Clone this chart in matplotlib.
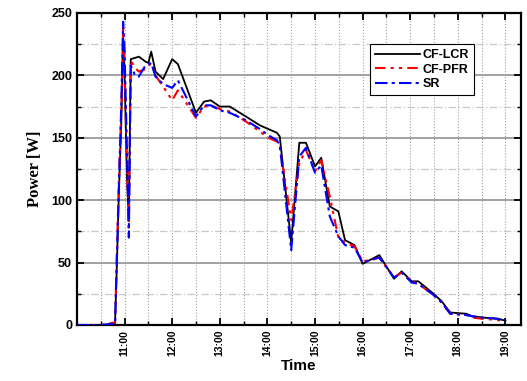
import matplotlib
matplotlib.use("Agg")
import matplotlib.pyplot as plt
from matplotlib.ticker import MultipleLocator, FixedLocator

# time in decimal hours
t = [10.0, 10.5, 10.8, 10.84, 10.88, 10.93, 10.97, 11.0, 11.05, 11.09,
     11.13, 11.22, 11.3, 11.44, 11.5, 11.56, 11.65, 11.81, 12.0, 12.12,
     12.5, 12.67, 12.81, 13.0, 13.21, 13.55, 13.84, 14.02, 14.2, 14.26,
     14.5, 14.67, 14.81, 15.0, 15.13, 15.31, 15.49, 15.63, 15.83, 16.0,
     16.15, 16.35, 16.66, 16.82, 17.03, 17.17, 17.49, 17.66, 17.84, 18.18,
     18.3, 18.51, 18.83, 19.0]

cf_lcr = [0, 0, 1, 50, 105, 160, 232, 200, 120, 83,
          213, 214, 215, 211, 210, 219, 203, 197, 213, 209,
          170, 179, 180, 175, 175, 167, 160, 157, 154, 151,
          66, 146, 146, 127, 134, 95, 91, 68, 64, 49,
          52, 56, 37, 43, 35, 35, 25, 19, 10, 9,
          7, 6, 5, 3.5]

cf_pfr = [0, 0, 2, 60, 115, 170, 238, 210, 130, 78,
          212, 206, 203, 205, 207, 210, 200, 191, 180, 188,
          166, 175, 176, 173, 171, 163, 155, 150, 147, 143,
          84, 130, 140, 123, 132, 103, 70, 66, 63, 51,
          52, 54, 38, 42, 35, 33, 24, 18, 9, 8,
          6, 5, 4, 3]

sr = [0, 0, 1, 55, 110, 175, 243, 220, 140, 70,
      208, 200, 199, 208, 209, 210, 199, 193, 190, 196,
      167, 176, 176, 172, 170, 164, 157, 152, 148, 144,
      60, 135, 142, 122, 128, 87, 71, 64, 62, 50,
      52, 54, 38, 42, 34, 33, 24, 18, 9, 8,
      7, 6, 5, 4]

hour_ticks = [11, 12, 13, 14, 15, 16, 17, 18, 19]
hour_labels = ["11:00", "12:00", "13:00", "14:00", "15:00",
               "16:00", "17:00", "18:00", "19:00"]

fig = plt.figure(figsize=(5.27, 3.81), dpi=100)
ax = fig.add_axes([0.146, 0.147, 0.843, 0.819])

ax.plot(t, cf_lcr, color="black", linewidth=1.3, label="CF-LCR", zorder=3)
ax.plot(t, cf_pfr, color="red", linewidth=1.5, dashes=(5, 2.5, 1.5, 2.5, 1.5, 2.5),
        label="CF-PFR", zorder=4)
ax.plot(t, sr, color="blue", linewidth=1.5, dashes=(6, 2, 1.5, 2),
        label="SR", zorder=5)

ax.set_xlim(10.0, 19.33)
ax.set_ylim(0, 250)

ax.xaxis.set_major_locator(FixedLocator(hour_ticks))
ax.set_xticklabels(hour_labels, rotation=90, fontsize=7.5, fontweight="bold",
                   family="Liberation Sans")
ax.xaxis.set_minor_locator(FixedLocator([10.5 + i for i in range(9)]))
ax.yaxis.set_major_locator(MultipleLocator(50))
ax.yaxis.set_minor_locator(MultipleLocator(25))
for lab in ax.get_yticklabels():
    lab.set_fontweight("bold")
    lab.set_fontsize(9)
    lab.set_family("Liberation Sans")

ax.tick_params(which="both", direction="in", top=True, right=True)
ax.tick_params(which="major", length=5, width=1.3)
ax.tick_params(which="minor", length=3, width=1)

# grid
ax.grid(True, which="major", axis="y", color="#9a9a9a", linewidth=1.3, linestyle="-")
ax.grid(True, which="minor", axis="y", color="#c8c8c8", linewidth=0.9,
        dashes=(6, 2, 1, 2))
ax.grid(True, which="both", axis="x", color="#a0a0a0", linewidth=0.8, linestyle=":")
ax.set_axisbelow(True)

for sp in ax.spines.values():
    sp.set_linewidth(1.6)

ax.set_xlabel("Time", fontsize=11, fontweight="bold", family="Liberation Sans",
              labelpad=2)
ax.set_ylabel("Power [W]", fontsize=12, fontweight="bold", family="Liberation Serif",
              labelpad=6)

leg = ax.legend(loc="upper left", bbox_to_anchor=(0.645, 0.92), fancybox=False,
                framealpha=1, edgecolor="black", borderpad=0.4, labelspacing=0.2,
                handlelength=3.6, handletextpad=0.2,
                prop={"family": "Liberation Sans", "weight": "bold", "size": 9})
leg.get_frame().set_linewidth(0.8)

fig.savefig("out.png", dpi=100)
